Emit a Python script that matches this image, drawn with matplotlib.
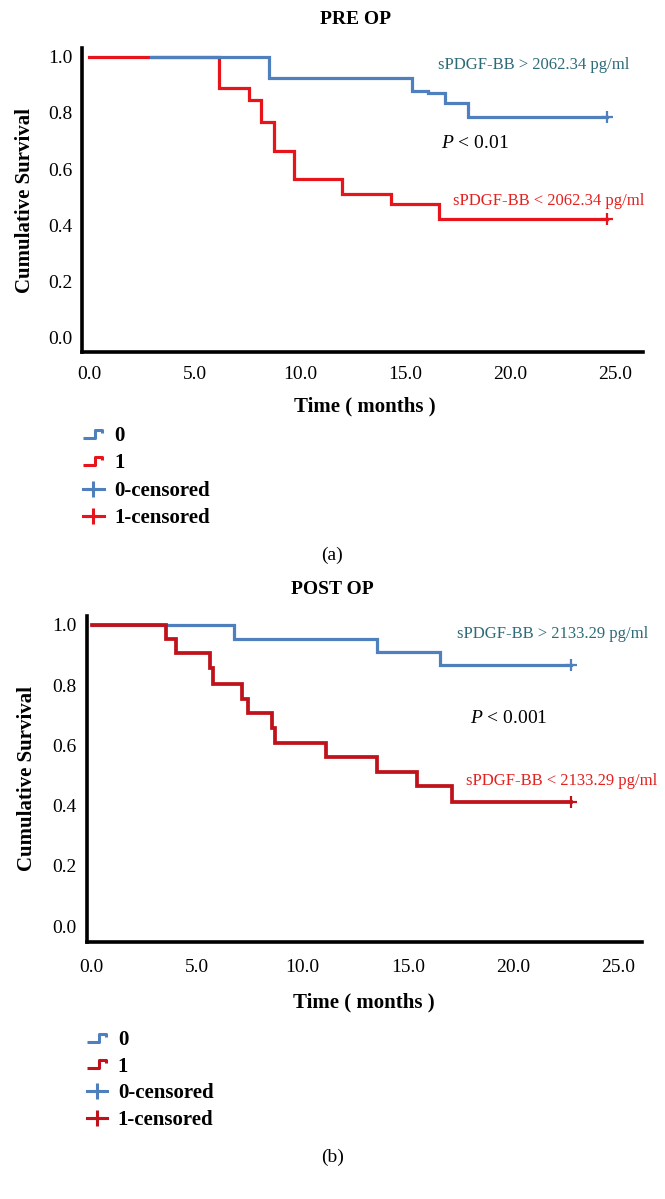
import matplotlib
matplotlib.use("Agg")
import matplotlib.pyplot as plt
from matplotlib.lines import Line2D
from matplotlib.path import Path

plt.rcParams["font.family"] = ["Liberation Serif", "DejaVu Serif"]
plt.rcParams["mathtext.fontset"] = "custom"
plt.rcParams["mathtext.rm"] = "Liberation Serif"
plt.rcParams["mathtext.it"] = "Liberation Serif:italic"

# ---- data ----
# panel (a) PRE OP
pre_low_times = [0.0, 6.14, 7.56, 8.16, 8.77, 9.72, 11.99, 14.32, 16.61]
pre_low_surv = [1.0, 0.890, 0.846, 0.769, 0.666, 0.565, 0.513, 0.476, 0.421]
pre_low_censor = 24.6
pre_high_times = [2.94, 8.55, 15.35, 16.10, 16.91, 17.98]
pre_high_surv = [1.0, 0.923, 0.878, 0.872, 0.834, 0.784]
pre_high_censor = 24.6

# panel (b) POST OP
post_low_times = [0.0, 3.53, 3.98, 5.62, 5.76, 7.14, 7.44, 8.55, 8.69, 11.12, 13.55, 15.43, 17.10]
post_low_surv = [1.0, 0.952, 0.905, 0.858, 0.805, 0.754, 0.708, 0.658, 0.609, 0.562, 0.510, 0.464, 0.412]
post_low_censor = 22.75
post_high_times = [0.0, 6.73, 13.55, 16.52]
post_high_surv = [1.0, 0.954, 0.910, 0.865]
post_high_censor = 22.75

x_ticks = [0, 5, 10, 15, 20, 25]
x_tick_labels = ["0.0", "5.0", "10.0", "15.0", "20.0", "25.0"]
y_ticks = [0.0, 0.2, 0.4, 0.6, 0.8, 1.0]
y_tick_labels = ["0.0", "0.2", "0.4", "0.6", "0.8", "1.0"]
legend_labels = ["0", "1", "0-censored", "1-censored"]

BLUE = "#4f7fbd"
TEAL = "#2e6b78"
RED_A = "#e8141c"
RED_B = "#c0121a"
RED_TXT = "#e3211f"

STEP_ICON = Path([(-1.0, -0.35), (0.2, -0.35), (0.2, 0.4), (0.85, 0.4), (0.85, 0.05)],
                 [Path.MOVETO, Path.LINETO, Path.LINETO, Path.LINETO, Path.LINETO])


def km(ax, times, surv, censor, color, lw, zorder):
    xs = list(times) + [censor]
    ys = list(surv) + [surv[-1]]
    ax.step(xs, ys, where="post", color=color, lw=lw, zorder=zorder, solid_joinstyle="miter")
    ax.plot([censor], [surv[-1]], marker="+", ms=8, mew=1.6, color=color, zorder=zorder)


def style_axes(ax, xlim, ylim, xpad):
    ax.set_xlim(*xlim)
    ax.set_ylim(*ylim)
    for side in ("top", "right"):
        ax.spines[side].set_visible(False)
    for side in ("left", "bottom"):
        ax.spines[side].set_linewidth(2.6)
        ax.spines[side].set_color("black")
    ax.set_xticks(x_ticks, x_tick_labels)
    ax.set_yticks(y_ticks, y_tick_labels)
    ax.tick_params(axis="both", length=0, labelsize=14)
    ax.tick_params(axis="x", pad=xpad)
    ax.tick_params(axis="y", pad=7)
    ax.set_xlabel("Time ( months )", fontsize=15, fontweight="bold")
    ax.set_ylabel("Cumulative Survival", fontsize=15, fontweight="bold")


def add_legend(fig, red, anchor, spacing):
    handles = [
        Line2D([], [], ls="none", marker=STEP_ICON, ms=15, mew=2.2, mfc="none", mec=BLUE),
        Line2D([], [], ls="none", marker=STEP_ICON, ms=15, mew=2.2, mfc="none", mec=red),
        Line2D([], [], color=BLUE, lw=2.2, marker="+", ms=11, mew=2.2),
        Line2D([], [], color=red, lw=2.2, marker="+", ms=11, mew=2.2),
    ]
    fig.legend(handles, legend_labels, loc="upper left", bbox_to_anchor=anchor,
               frameon=False, prop={"size": 15, "weight": "bold"}, handlelength=1.0,
               handletextpad=0.5, labelspacing=spacing, borderpad=0, borderaxespad=0,
               numpoints=1)


fig = plt.figure(figsize=(6.65, 11.99), dpi=100)

# ---- panel (a) ----
ax1 = fig.add_axes([0.1233, 0.7064, 0.8436, 0.2535])
km(ax1, pre_low_times, pre_low_surv, pre_low_censor, RED_A, 2.3, 2)
km(ax1, pre_high_times, pre_high_surv, pre_high_censor, BLUE, 2.3, 3)
style_axes(ax1, (-0.35, 26.3), (-0.051, 1.031), 10)
ax1.xaxis.set_label_coords(0.505, -0.145)
ax1.yaxis.set_label_coords(-0.084, 0.5)
ax1.text(21.1, 0.970, "sPDGF-BB > 2062.34 pg/ml", color=TEAL, fontsize=12, ha="center", va="center")
ax1.text(16.7, 0.692, "$P$ < 0.01", color="black", fontsize=14, ha="left", va="center")
ax1.text(21.8, 0.488, "sPDGF-BB < 2062.34 pg/ml", color=RED_TXT, fontsize=12, ha="center", va="center")
fig.text(356 / 665, 1 - 20 / 1199, "PRE OP", fontsize=14, fontweight="bold", ha="center", va="center")
add_legend(fig, RED_A, (0.1248, 1 - 426 / 1199), 0.36)
fig.text(0.5, 1 - 555 / 1199, "(a)", fontsize=14, ha="center", va="center")

# ---- panel (b) ----
ax2 = fig.add_axes([0.1301, 0.2143, 0.8346, 0.2719])
km(ax2, post_high_times, post_high_surv, post_high_censor, BLUE, 2.3, 2)
km(ax2, post_low_times, post_low_surv, post_low_censor, RED_B, 2.7, 3)
style_axes(ax2, (-0.25, 26.1), (-0.053, 1.029), 12)
ax2.xaxis.set_label_coords(0.5, -0.155)
ax2.yaxis.set_label_coords(-0.09, 0.503)
ax2.text(21.9, 0.969, "sPDGF-BB > 2133.29 pg/ml", color=TEAL, fontsize=12, ha="center", va="center")
ax2.text(17.96, 0.689, "$P$ < 0.001", color="black", fontsize=14, ha="left", va="center")
ax2.text(22.3, 0.481, "sPDGF-BB < 2133.29 pg/ml", color=RED_TXT, fontsize=12, ha="center", va="center")
fig.text(0.5, 1 - 590 / 1199, "POST OP", fontsize=14, fontweight="bold", ha="center", va="center")
add_legend(fig, RED_B, (0.1301, 1 - 1030 / 1199), 0.32)
fig.text(0.5, 1 - 1157 / 1199, "(b)", fontsize=14, ha="center", va="center")

fig.savefig("out.png", dpi=100)
